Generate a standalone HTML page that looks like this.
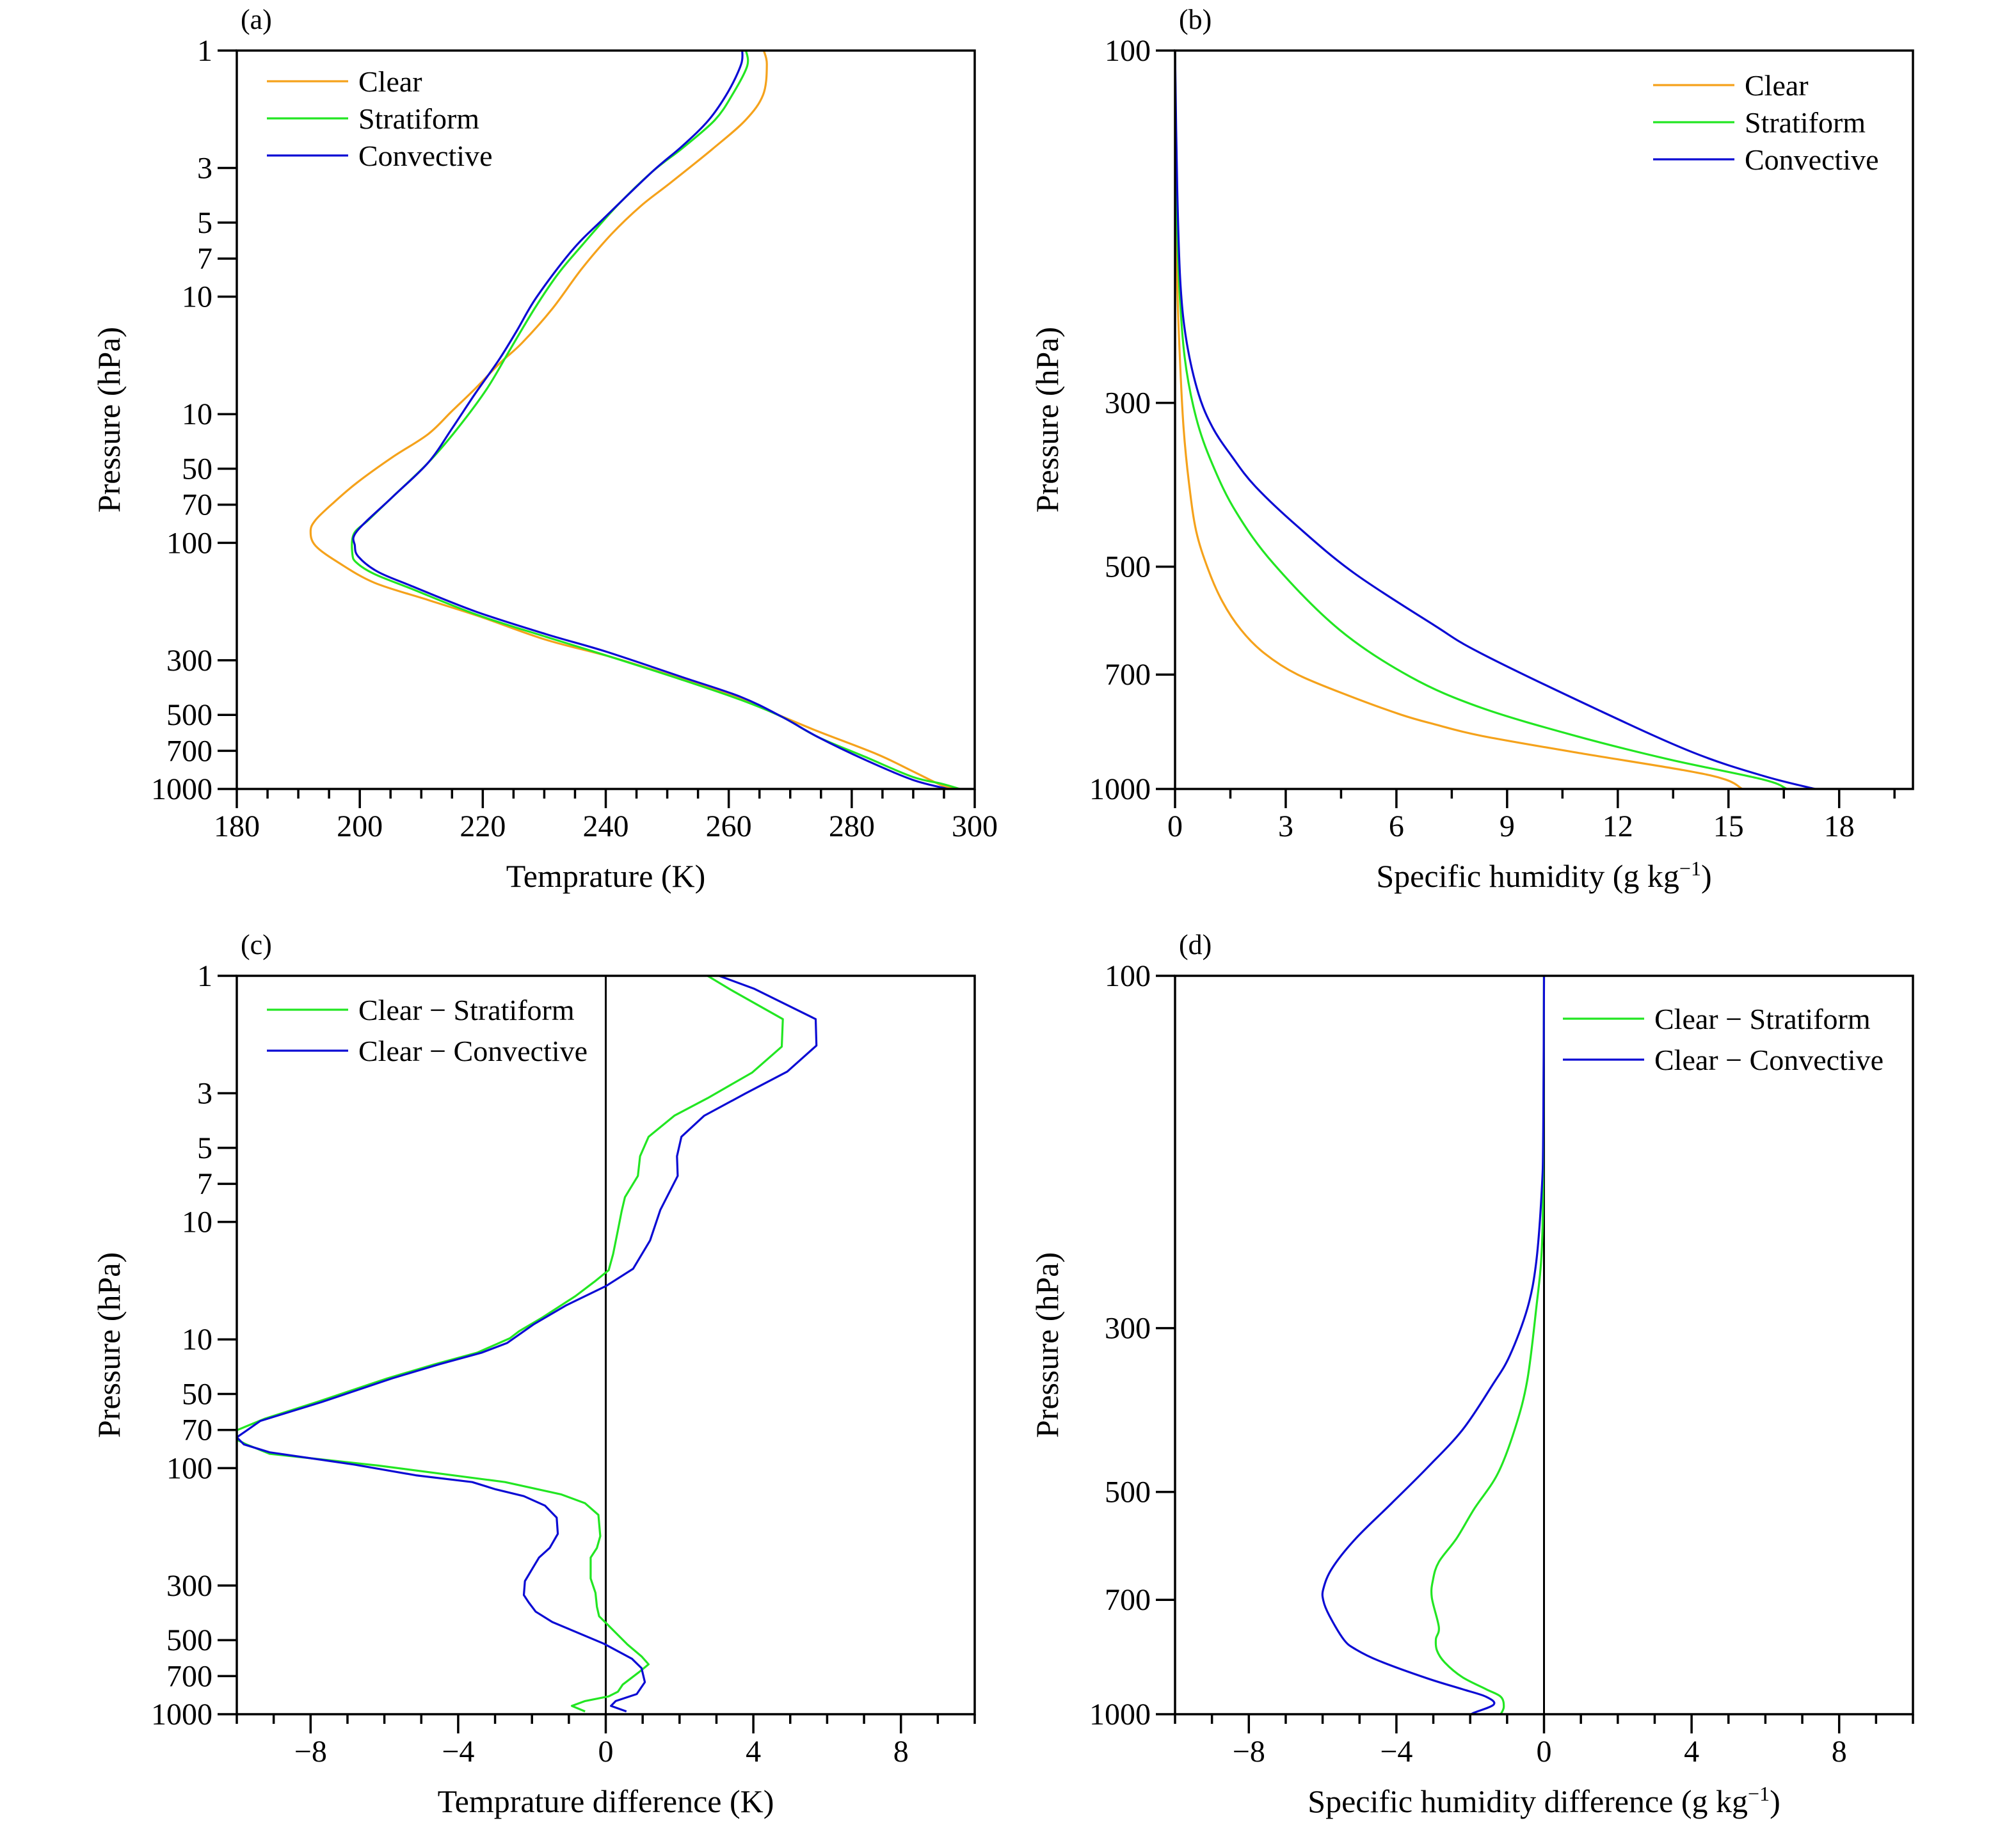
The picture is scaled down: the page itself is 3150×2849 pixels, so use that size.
<!DOCTYPE html>
<html><head><meta charset="utf-8"><style>
html,body{margin:0;padding:0;background:#fff;}
svg, svg text{font-family:"Liberation Serif","Times New Roman","DejaVu Serif",serif;}
</style></head><body>
<svg id="fig" width="3150" height="2844" viewBox="0 0 3150 2844" xmlns="http://www.w3.org/2000/svg" font-family="'Liberation Serif', 'Times New Roman', serif"></svg>
<script>
// ---- Panel (a) temperature profiles ----
const aClearT=[265.7,266.2,265.6,262.7,257.2,250.5,245.7,240.9,236.1,231.3,226.4,222.9,218.8,214.9,211.1,205.3,199.5,195.7,192.8,192.0,192.8,196.6,202.4,211.1,219.7,230.3,240.9,251.4,261.1,267.8,274.5,284.1,289.9,294.7,297.1];
const aClearP=[1,1.14,1.51,1.92,2.53,3.45,4.28,5.58,7.7,11.2,15.4,18.5,23.6,29.3,36.2,44.9,57.1,68.8,80.8,89.9,102.8,120.6,145.3,170.6,200,247.7,291,351,423,497,583,722,847,968,1000];
const aStratT=[262.8,263.0,260.6,257.7,252.4,247.6,241.8,236.1,232.2,228.4,224.5,220.7,215.9,211.1,205.3,201.4,199.0,198.8,199.5,202.4,208.2,218.8,230.3,240.9,252.4,262.0,268.7,274.5,282.2,289.9,294.7,297.6];
const aStratP=[1,1.155,1.51,1.92,2.5,3.1,4.28,6.2,8.1,11.2,16.3,23.6,34.3,47.3,65.2,80.8,92.3,111,120.6,134,153,195,241,291,360,435,510,615,741,893,953,1000];
const aConvT=[262.2,262.0,259.9,256.7,252.4,247.6,239.9,234.6,228.8,225.5,222.6,218.8,215.0,211.1,205.3,199.5,199.2,199.8,202.9,208.2,218.8,230.3,239.9,252.4,262.0,268.7,274.5,282.2,289.9,295.7];
const aConvP=[1,1.14,1.47,1.92,2.45,3.1,4.75,6.45,10.0,13.8,18.1,24.7,34.3,47.3,65.2,89.9,102.8,114,131,149,190,235,276,351,423,510,615,762,918,1000];
// ---- Panel (b) specific humidity ----
const bClearQ=[0,0.03,0.06,0.13,0.23,0.38,0.57,0.89,1.28,1.79,2.42,3.32,4.72,6.12,7.02,8.29,10.84,13.78,14.92,15.37];
const bClearP=[100,155,208,260,324,386,447,503,557,609,655,700,748,793,817,847,892,943,971,1000];
const bStratQ=[0,0.04,0.10,0.26,0.57,1.02,1.66,2.68,4.46,6.38,8.29,10.84,13.39,15.94,16.58];
const bStratP=[100,155,202,260,314,364,422,496,609,705,776,847,912,971,1000];
const bConvQ=[0,0.06,0.15,0.32,0.64,1.02,1.53,2.17,3.32,4.85,7.02,8.29,11.48,14.03,15.94,17.35];
const bConvP=[100,155,208,249,292,324,354,389,441,510,600,655,782,892,960,1000];
// ---- Panel (c) temperature differences ----
const cStratD=[2.76,3.39,4.80,4.77,3.97,2.76,1.86,1.16,0.93,0.87,0.52,0.43,0.33,0.20,0.08,-0.31,-0.82,-1.71,-2.35,-2.60,-3.49,-4.64,-5.92,-7.83,-9.23,-10,-10,-9.74,-9.11,-6.17,-2.73,-1.20,-0.56,-0.20,-0.15,-0.24,-0.41,-0.41,-0.28,-0.24,-0.18,0.08,0.59,0.97,1.16,0.91,0.46,0.33,0.08,-0.56,-0.92,-0.56];
const cStratP=[1,1.14,1.50,1.94,2.47,3.14,3.70,4.51,5.41,6.50,7.93,9.05,10.8,13.5,15.7,17.5,20.0,24.4,27.8,29.7,34.0,37.9,43.2,53.9,62.9,70.2,76.7,80.1,87.5,97.7,114,128,139,155,189,211,231,281,321,366,400,437,521,582,627,673,758,810,846,884,925,974];
const cConvD=[3.07,4.03,5.69,5.71,4.92,3.78,2.67,2.05,1.93,1.95,1.48,1.20,0.74,0.01,-1.07,-1.96,-2.67,-3.37,-4.52,-5.79,-7.70,-9.36,-10,-9.81,-9.11,-6.81,-5.15,-3.62,-2.98,-2.22,-1.65,-1.33,-1.30,-1.52,-1.81,-1.96,-2.19,-2.22,-2.09,-1.90,-1.45,-0.05,0.71,0.97,1.06,0.84,0.27,0.14,0.56];
const cConvP=[1,1.13,1.50,1.92,2.45,3.01,3.70,4.51,5.41,6.50,8.93,11.9,15.5,18.2,21.8,26.1,31.0,34.0,37.9,43.2,53.9,64.3,75.0,80.1,86.3,96.8,107,114,122,130,142,159,185,211,231,252,288,328,351,383,422,517,595,650,741,828,884,925,974];
// ---- Panel (d) humidity differences ----
const dStratD=[0,-0.02,-0.06,-0.21,-0.45,-0.77,-1.25,-1.89,-2.37,-2.85,-3.01,-3.04,-2.85,-2.93,-2.90,-2.69,-2.21,-1.57,-1.17,-1.09,-1.17];
const dStratP=[100,178,235,282,352,408,472,527,578,622,658,695,762,791,820,851,891,925,947,977,1000];
const dConvD=[0,-0.02,-0.06,-0.21,-0.45,-0.93,-1.41,-2.21,-3.17,-4.13,-5.10,-5.74,-5.98,-5.98,-5.82,-5.42,-5.10,-4.46,-3.17,-2.21,-1.57,-1.36,-1.89,-1.97];
const dConvP=[100,163,195,244,282,327,359,412,464,518,578,634,676,702,735,793,817,847,894,925,947,970,995,1000];
// ---- tick labels ----
const aYTickVals=[1,3,5,7,10,30,50,70,100,300,500,700,1000];
const aYTickLabels=["1","3","5","7","10","10","50","70","100","300","500","700","1000"];
const bYTickVals=[100,300,500,700,1000];
const bYTickLabels=["100","300","500","700","1000"];
const aXTickLabels=["180","200","220","240","260","280","300"];
const bXTickLabels=["0","3","6","9","12","15","18"];
const cXTickLabels=["\u22128","\u22124","0","4","8"];

const NS="http://www.w3.org/2000/svg";
const FONT="'Liberation Serif', 'Times New Roman', 'DejaVu Serif', serif";
const svg=document.getElementById('fig');
const W=1153,H=1154;
const ORANGE="#f5a21b",GREEN="#22e622",BLUE="#0b0bd4";
function mk(tag,attrs,parent){const e=document.createElementNS(NS,tag);for(const k in attrs)e.setAttribute(k,attrs[k]);(parent||svg).appendChild(e);return e;}
function txt(s,x,y,size,anchor,parent){const t=mk('text',{x:x,y:y,'font-size':size,'font-family':FONT,'text-anchor':anchor||'start',fill:'#000'},parent);t.textContent=s;return t;}

function smoothPath(pts){
  let d='M'+pts[0][0].toFixed(1)+','+pts[0][1].toFixed(1);
  for(let i=0;i<pts.length-1;i++){
    const p0=pts[Math.max(i-1,0)],p1=pts[i],p2=pts[i+1],p3=pts[Math.min(i+2,pts.length-1)];
    const c1=[p1[0]+(p2[0]-p0[0])/6,p1[1]+(p2[1]-p0[1])/6];
    const c2=[p2[0]-(p3[0]-p1[0])/6,p2[1]-(p3[1]-p1[1])/6];
    d+='C'+c1[0].toFixed(1)+','+c1[1].toFixed(1)+' '+c2[0].toFixed(1)+','+c2[1].toFixed(1)+' '+p2[0].toFixed(1)+','+p2[1].toFixed(1);
  }
  return d;
}

function panel(cfg){
  const g=mk('g',{});
  
  
  const x0=cfg.x0,y0=cfg.y0;
  const sx=v=>x0+(v-cfg.xmin)/(cfg.xmax-cfg.xmin)*W;
  const sy=p=>y0+(Math.log10(p)-Math.log10(cfg.pmin))/(Math.log10(cfg.pmax)-Math.log10(cfg.pmin))*H;
  const pl=txt(cfg.label,x0+6,y0-34,44,'start',g);
  
  
  if(cfg.zero){const z=mk('line',{x1:sx(0),x2:sx(0),y1:y0,y2:y0+H,stroke:'#000','stroke-width':3},g);
    
    }
  cfg.series.forEach(s=>{
    const pts=s.x.map((v,i)=>[sx(v),sy(s.p[i])]);
    let d;
    if(cfg.smooth){d=smoothPath(pts);}else{d='';pts.forEach((q,i)=>{d+=(i?'L':'M')+q[0].toFixed(1)+','+q[1].toFixed(1);});}
    const path=mk('path',{d:d,fill:'none',stroke:s.color,'stroke-width':3.2,'stroke-linejoin':'round'},g);
    
    
  });
  const fr=mk('rect',{x:x0,y:y0,width:W,height:H,fill:'none',stroke:'#000','stroke-width':3.5},g);
  
  
  const yg=mk('g',{},g);
  
  
  cfg.yVals.forEach((v,i)=>{
    const y=sy(v);
    mk('line',{x1:x0-30,x2:x0,y1:y,y2:y,stroke:'#000','stroke-width':3.5},yg);
    txt(cfg.yLabels[i],x0-38,y+16,48,'end',yg);
  });
  const xg=mk('g',{},g);
  
  
  const n=Math.round((cfg.xmax-cfg.xmin)/cfg.minor);
  for(let i=0;i<=n;i++){
    const v=cfg.xmin+i*cfg.minor;const x=sx(v);
    const isMaj=cfg.majorVals.some(m=>Math.abs(m-v)<1e-6);
    mk('line',{x1:x,x2:x,y1:y0+H,y2:y0+H+(isMaj?30:15),stroke:'#000','stroke-width':3.5},xg);
  }
  cfg.majorVals.forEach((v,i)=>{txt(cfg.xLabels[i],sx(v),y0+H+74,48,'middle',xg);});
  const xt=txt('',x0+W/2,y0+H+153,50,'middle',g);
  xt.innerHTML=cfg.xTitle;
  
  
  const yt=mk('text',{x:0,y:0,'font-size':50,'font-family':FONT,'text-anchor':'middle',transform:`translate(${x0-183},${y0+H/2}) rotate(-90)`},g);
  yt.textContent='Pressure (hPa)';
  
  
  const lg=mk('g',{},g);
  
  
  cfg.series.forEach((s,i)=>{
    const y=cfg.leg.y+i*cfg.leg.dy;
    const e=mk('g',{},lg);
    
    
    mk('line',{x1:cfg.leg.x,x2:cfg.leg.x+127,y1:y,y2:y,stroke:s.color,'stroke-width':3.2},e);
    txt(s.label,cfg.leg.x+143,y+16,46,'start',e);
  });
}
const range=(a,b,s)=>{const r=[];for(let v=a;v<=b+1e-9;v+=s)r.push(Math.round(v*100)/100);return r;};
panel({name:'panel-a-temperature',label:'(a)',x0:370,y0:79,xmin:180,xmax:300,pmin:1,pmax:1000,minor:5,major:20,majorVals:range(180,300,20),xLabels:aXTickLabels,smooth:true,
  yVals:aYTickVals,yLabels:aYTickLabels,xTitle:'Temprature (K)',
  series:[{name:'clear-line',label:'Clear',color:ORANGE,x:aClearT,p:aClearP},{name:'stratiform-line',label:'Stratiform',color:GREEN,x:aStratT,p:aStratP},{name:'convective-line',label:'Convective',color:BLUE,x:aConvT,p:aConvP}],
  leg:{x:417,y:127,dy:58}});
panel({name:'panel-b-humidity',label:'(b)',x0:1836,y0:79,xmin:0,xmax:20,pmin:100,pmax:1000,minor:1.5,major:3,majorVals:range(0,18,3),xLabels:bXTickLabels,smooth:true,
  yVals:bYTickVals,yLabels:bYTickLabels,xTitle:'Specific humidity (g kg<tspan dy="-18" font-size="32">\u22121</tspan><tspan dy="18">)</tspan>',
  series:[{name:'clear-line',label:'Clear',color:ORANGE,x:bClearQ,p:bClearP},{name:'stratiform-line',label:'Stratiform',color:GREEN,x:bStratQ,p:bStratP},{name:'convective-line',label:'Convective',color:BLUE,x:bConvQ,p:bConvP}],
  leg:{x:2583,y:133,dy:58}});
panel({name:'panel-c-temperature-difference',label:'(c)',x0:370,y0:1525,xmin:-10,xmax:10,pmin:1,pmax:1000,minor:1,major:4,majorVals:[-8,-4,0,4,8],xLabels:cXTickLabels,zero:true,
  yVals:aYTickVals,yLabels:aYTickLabels,xTitle:'Temprature difference (K)',
  series:[{name:'clear-minus-stratiform-line',label:'Clear \u2212 Stratiform',color:GREEN,x:cStratD,p:cStratP},{name:'clear-minus-convective-line',label:'Clear \u2212 Convective',color:BLUE,x:cConvD,p:cConvP}],
  leg:{x:417,y:1578,dy:64}});
panel({name:'panel-d-humidity-difference',label:'(d)',x0:1836,y0:1525,xmin:-10,xmax:10,pmin:100,pmax:1000,minor:1,major:4,majorVals:[-8,-4,0,4,8],xLabels:cXTickLabels,zero:true,smooth:true,
  yVals:bYTickVals,yLabels:bYTickLabels,xTitle:'Specific humidity difference (g kg<tspan dy="-18" font-size="32">\u22121</tspan><tspan dy="18">)</tspan>',
  series:[{name:'clear-minus-stratiform-line',label:'Clear \u2212 Stratiform',color:GREEN,x:dStratD,p:dStratP},{name:'clear-minus-convective-line',label:'Clear \u2212 Convective',color:BLUE,x:dConvD,p:dConvP}],
  leg:{x:2442,y:1592,dy:64}});
</script>
</body></html>
